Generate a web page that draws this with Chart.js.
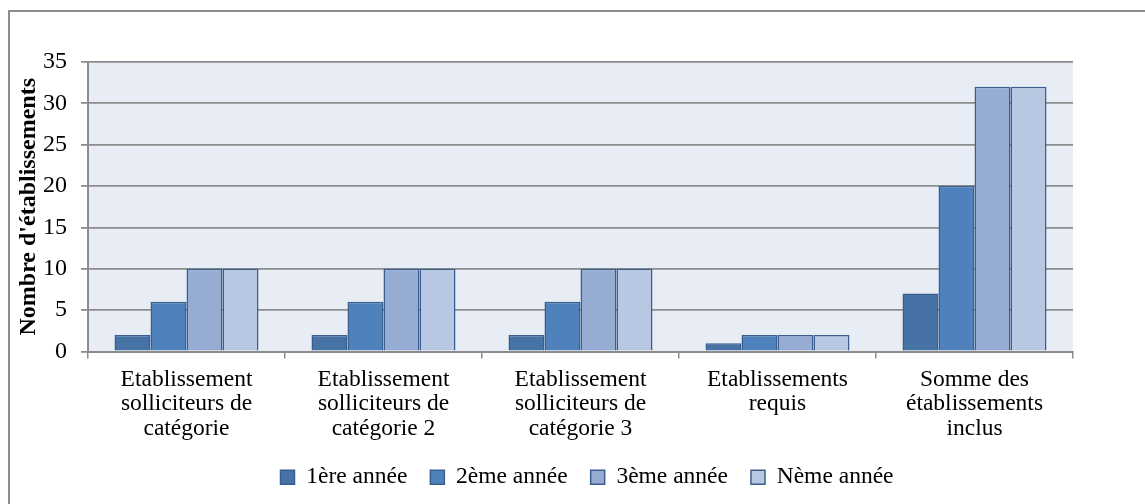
<!DOCTYPE html>
<html>
<head>
<meta charset="utf-8">
<script src="https://cdn.jsdelivr.net/npm/chart.js@4"></script>
<style>
  body { margin: 0; background: #fff; }
  #wrap { width: 1145px; height: 504px; }
</style>
</head>
<body>
<div id="wrap"><canvas id="chart" width="1145" height="504"></canvas></div>
<script>
// Categories and yearly counts
const categories = [
    ['Etablissement', 'solliciteurs de', 'catégorie'],
    ['Etablissement', 'solliciteurs de', 'catégorie 2'],
    ['Etablissement', 'solliciteurs de', 'catégorie 3'],
    ['Etablissements', 'requis'],
    ['Somme des', 'établissements', 'inclus']
];
const year1 = [2, 2, 2, 1, 7];
const year2 = [6, 6, 6, 2, 20];
const year3 = [10, 10, 10, 2, 32];
const yearN = [10, 10, 10, 2, 32];
const seriesNames = ['1ère année', '2ème année', '3ème année', 'Nème année'];
const seriesColors = ['#4672a6', '#4f81bd', '#97acd3', '#b9c8e2'];

const FONT = "'Liberation Serif', 'Times New Roman', serif";

// light plot background + grey frame lines (top and left)
const frame = {
    id: 'frame',
    afterLayout(chart) {
        // legend sits centred on the outer frame, a bit right of the canvas centre
        chart.legend.left += 44;
        chart.legend.right += 44;
    },
    beforeDraw(chart) {
        const c = chart.ctx;
        const a = chart.chartArea;
        c.save();
        c.fillStyle = '#ffffff';
        c.fillRect(0, 0, chart.width, chart.height);
        c.fillStyle = '#e8ecf5';
        c.fillRect(a.left, a.top, a.right - a.left, a.bottom - a.top);
        c.strokeStyle = '#8c8c8c';
        c.lineWidth = 2;
        c.beginPath();
        c.moveTo(9, chart.height);
        c.lineTo(9, 11);
        c.lineTo(chart.width, 11);
        c.stroke();
        c.restore();
    }
};

const ctx = document.getElementById('chart').getContext('2d');
const values = [year1, year2, year3, yearN];

new Chart(ctx, {
    type: 'bar',
    data: {
        labels: categories,
        datasets: values.map((v, i) => ({
            label: seriesNames[i],
            data: v,
            backgroundColor: seriesColors[i],
            borderColor: '#3a5f8e',
            borderWidth: 1.5,
            barPercentage: 1,
            categoryPercentage: 0.731
        }))
    },
    options: {
        responsive: false,
        animation: false,
        layout: { padding: { left: 13, top: 62, right: 72, bottom: 5 } },
        plugins: {
            tooltip: { enabled: false },
            legend: {
                position: 'bottom',
                labels: {
                    color: '#000',
                    font: { family: FONT, size: 23.5 },
                    boxWidth: 14,
                    boxHeight: 14,
                    padding: 23
                }
            }
        },
        scales: {
            x: {
                grid: { drawOnChartArea: false, color: '#8c8c8c', lineWidth: 1.5, tickLength: 7 },
                border: { color: '#8c8c8c', width: 2 },
                ticks: {
                    color: '#000',
                    font: { family: FONT, size: 23.5, lineHeight: '24.5px' },
                    maxRotation: 0,
                    padding: 9
                },
                afterFit(scale) { scale.height = 91; }
            },
            y: {
                min: 0,
                max: 35,
                ticks: { stepSize: 5, color: '#000', font: { family: FONT, size: 24 }, padding: 14 },
                grid: { color: '#8c8c8c', lineWidth: 1.8, tickLength: 7 },
                border: { color: '#8c8c8c', width: 2 },
                title: {
                    display: true,
                    text: "Nombre d'établissements",
                    color: '#000',
                    font: { family: FONT, size: 24, weight: 'bold' },
                    padding: { top: 1, bottom: 0 }
                },
                afterFit(scale) { scale.width = 75; }
            }
        }
    },
    plugins: [frame]
});
</script>
</body>
</html>
